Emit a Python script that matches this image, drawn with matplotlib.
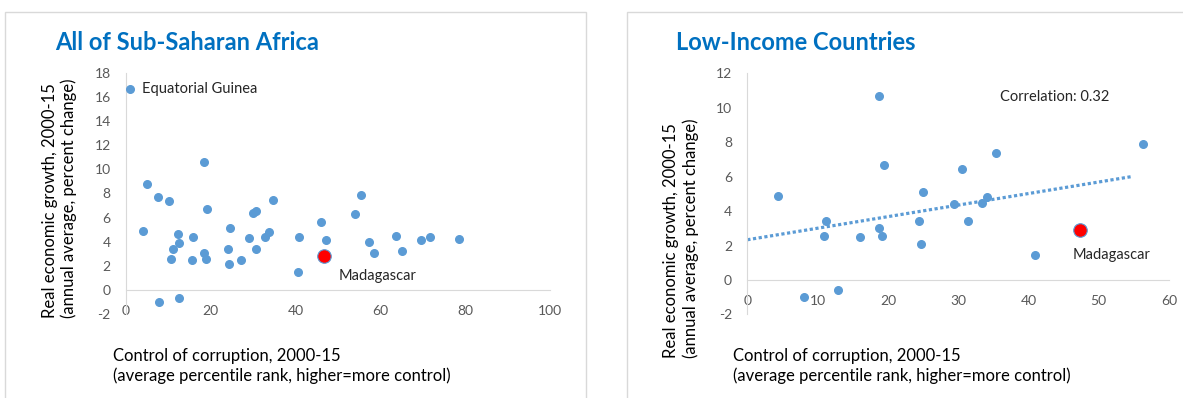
import numpy as np
import matplotlib
matplotlib.use("Agg")
import matplotlib.pyplot as plt
from matplotlib.patches import Rectangle

plt.rcParams["font.family"] = ["Lato", "DejaVu Sans"]
plt.rcParams["axes.unicode_minus"] = False

# Sub-Saharan Africa: control of corruption vs growth
ssa_x = [0.9, 4.1, 4.9, 7.5, 7.7, 10.2, 10.5, 11.1, 12.2, 12.5, 12.5, 15.6, 15.9,
         18.4, 18.4, 18.75, 19.0, 24.1, 24.3, 24.6, 27.1, 29.1, 30.0, 30.75, 30.75,
         32.7, 33.65, 34.7, 40.6, 40.9, 45.9, 47.1, 54.1, 55.5, 57.25, 58.6, 63.7,
         65.1, 69.6, 71.6, 78.6]
ssa_y = [16.65, 4.9, 8.8, 7.75, -1.0, 7.4, 2.55, 3.4, 4.6, 3.9, -0.65, 2.45, 4.4,
         10.65, 3.05, 2.55, 6.7, 3.4, 2.15, 5.1, 2.45, 4.3, 6.35, 6.55, 3.4,
         4.4, 4.8, 7.5, 1.45, 4.4, 5.6, 4.1, 6.3, 7.9, 4.0, 3.1, 4.5,
         3.2, 4.1, 4.4, 4.2]

# Low-income countries
lic_x = [4.4, 8.0, 10.9, 11.2, 12.9, 16.0, 18.7, 18.75, 19.1, 19.4, 24.45, 24.65,
         25.0, 29.45, 30.6, 31.35, 33.4, 34.05, 35.4, 41.0, 56.3]
lic_y = [4.85, -1.0, 2.55, 3.4, -0.6, 2.5, 3.0, 10.7, 2.55, 6.65, 3.45, 2.1,
         5.1, 4.4, 6.45, 3.4, 4.45, 4.8, 7.4, 1.45, 7.9]

mdg_ssa = (46.7, 2.85)
mdg_lic = (47.4, 2.9)
eq_guinea = (0.9, 16.65)
correlation = 0.32
trend_range = [0, 54.75]

BLUE = "#5B9BD5"
TITLE_BLUE = "#0070C0"
GRID = "#D9D9D9"
TICK = "#595959"

fig = plt.figure(figsize=(11.83, 3.98), dpi=100)

# panel frames
fig.add_artist(Rectangle((4.6 / 1183, -0.05), (586 - 4.6) / 1183, 0.05 + 1 - 11.7 / 398,
                         transform=fig.transFigure, fill=False, ec=GRID, lw=1))
fig.add_artist(Rectangle((626.7 / 1183, -0.05), 0.5, 0.05 + 1 - 11.7 / 398,
                         transform=fig.transFigure, fill=False, ec=GRID, lw=1))

ax1 = fig.add_axes([126 / 1183, 1 - 314 / 398, 424 / 1183, 241 / 398])
ax2 = fig.add_axes([747.3 / 1183, 1 - 314.4 / 398, 421.7 / 1183, 241.1 / 398])


def style(ax, xmax, xstep, ymin, ymax):
    ax.set_xlim(0, xmax)
    ax.set_ylim(ymin, ymax)
    ax.set_xticks(np.arange(0, xmax + 1, xstep))
    ax.set_yticks(np.arange(ymin, ymax + 1, 2))
    for s in ["top", "right"]:
        ax.spines[s].set_visible(False)
    ax.spines["bottom"].set_position(("data", 0))
    ax.spines["bottom"].set_color(GRID)
    ax.spines["left"].set_color(GRID)
    ax.tick_params(length=0, labelsize=10, colors=TICK)
    ax.tick_params(axis="x", pad=11)
    ax.tick_params(axis="y", pad=11)
    ax.patch.set_alpha(0)


# left panel
style(ax1, 100, 20, -2, 18)
ax1.scatter(ssa_x, ssa_y, s=30, color=BLUE, zorder=3)
ax1.scatter(*mdg_ssa, s=95, color="red", edgecolors=BLUE, linewidths=0.8, zorder=4)
ax1.text(eq_guinea[0] + 2.8, eq_guinea[1], "Equatorial Guinea", fontsize=10.5,
         va="center", color="#262626")
ax1.text(mdg_ssa[0] + 3.5, mdg_ssa[1] - 1.7, "Madagascar", fontsize=10.5,
         va="center", color="#262626")

# right panel
style(ax2, 60, 10, -2, 12)
ax2.scatter(lic_x, lic_y, s=30, color=BLUE, zorder=3)
ax2.scatter(*mdg_lic, s=95, color="red", edgecolors=BLUE, linewidths=0.8, zorder=4)
all_x = np.array(lic_x + [mdg_lic[0]])
all_y = np.array(lic_y + [mdg_lic[1]])
slope, icept = np.polyfit(all_x, all_y, 1)
tx = np.array(trend_range)
ax2.plot(tx, icept + slope * tx, color=BLUE, lw=2.3, linestyle=(0, (1, 0.8)), zorder=2)
ax2.text(mdg_lic[0] - 1.1, mdg_lic[1] - 1.45, "Madagascar", fontsize=10.5,
         va="center", color="#262626")
ax2.text(43.7, 10.64, f"Correlation: {correlation}", fontsize=10.5,
         ha="center", va="center", color="#262626")

# titles
fig.text(55 / 1183, 1 - 43 / 398, "All of Sub-Saharan Africa", fontsize=17,
         fontweight="bold", color=TITLE_BLUE, va="center")
fig.text(676 / 1183, 1 - 43 / 398, "Low-Income Countries", fontsize=17,
         fontweight="bold", color=TITLE_BLUE, va="center")

ylab = "Real economic growth, 2000-15\n(annual average, percent change)"
xlab = "Control of corruption, 2000-15\n(average percentile rank, higher=more control)"
fig.text(59.5 / 1183, 1 - 318 / 398, ylab, rotation=90, fontsize=12,
         ha="center", va="bottom", multialignment="left", linespacing=1.25)
fig.text(681 / 1183, 1 - 358 / 398, ylab, rotation=90, fontsize=12,
         ha="center", va="bottom", multialignment="left", linespacing=1.25)
fig.text(112.6 / 1183, 1 - 366 / 398, xlab, fontsize=12, ha="left", va="center",
         linespacing=1.25)
fig.text(733 / 1183, 1 - 366 / 398, xlab, fontsize=12, ha="left", va="center",
         linespacing=1.25)

fig.savefig("out.png", dpi=100)
